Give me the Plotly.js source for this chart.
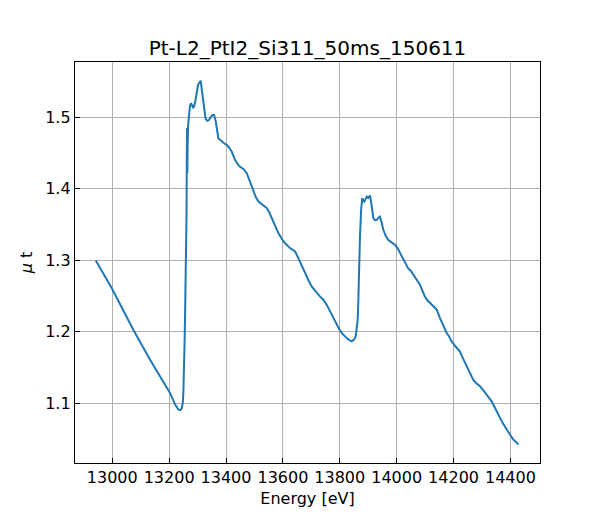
<!DOCTYPE html>
<html>
<head>
<meta charset="utf-8">
<script src="https://cdn.plot.ly/plotly-3.0.1.min.js"></script>
<style>
    html, body { margin: 0; padding: 0; background: #fff; }
    #chart { width: 600px; height: 520px; }
</style>
</head>
<body>
<div id="chart"></div>
<script>
// Pt L2 edge scan
const energy = [
    12942, 12998, 13074, 13133, 13203, 13221, 13232, 13238, 13244, 13248,
    13250, 13252, 13254, 13256, 13258, 13260, 13261, 13262, 13263, 13264,
    13265, 13267, 13270, 13273, 13277, 13281, 13285, 13291, 13296, 13302,
    13306, 13311, 13316, 13322, 13328, 13334, 13340, 13346, 13352, 13358,
    13364, 13373, 13385, 13395, 13402, 13410, 13420, 13432, 13445, 13455,
    13463, 13473, 13484, 13496, 13505, 13514, 13528, 13543, 13552, 13561,
    13573, 13584, 13596, 13607, 13625, 13643, 13654, 13666, 13678, 13690,
    13701, 13719, 13730, 13742, 13755, 13766, 13778, 13789, 13801, 13812,
    13822, 13832, 13842, 13850, 13856, 13860, 13863, 13865, 13867, 13869,
    13871, 13875, 13879, 13883, 13886, 13890, 13895, 13900, 13906, 13910,
    13914, 13918, 13924, 13930, 13936, 13941, 13947, 13953, 13962, 13970,
    13982, 13994, 14003, 14012, 14020, 14029, 14040, 14050, 14058, 14070,
    14082, 14090, 14099, 14108, 14117, 14129, 14141, 14152, 14164, 14176,
    14185, 14193, 14208, 14222, 14234, 14246, 14258, 14269, 14280, 14293,
    14305, 14316, 14334, 14345, 14357, 14372, 14387, 14398, 14410, 14420,
    14428
];
const muT = [
    1.2997, 1.2612, 1.2029, 1.1610, 1.1145, 1.0982, 1.0915, 1.0902, 1.0925, 1.1005,
    1.1150, 1.1377, 1.1800, 1.2215, 1.2650, 1.3000, 1.3600, 1.4300, 1.4850, 1.4220,
    1.4600, 1.4900, 1.5050, 1.5150, 1.5196, 1.5160, 1.5126, 1.5200, 1.5350, 1.5460,
    1.5480, 1.5510, 1.5350, 1.5120, 1.4980, 1.4950, 1.4960, 1.5000, 1.5030, 1.5030,
    1.4940, 1.4707, 1.4660, 1.4630, 1.4613, 1.4580, 1.4520, 1.4400, 1.4320, 1.4288,
    1.4270, 1.4218, 1.4100, 1.3960, 1.3880, 1.3820, 1.3770, 1.3730, 1.3670, 1.3590,
    1.3480, 1.3380, 1.3300, 1.3240, 1.3170, 1.3123, 1.3030, 1.2920, 1.2821, 1.2720,
    1.2634, 1.2542, 1.2495, 1.2448, 1.2370, 1.2285, 1.2190, 1.2099, 1.2015, 1.1960,
    1.1915, 1.1885, 1.1866, 1.1890, 1.1936, 1.2040, 1.2170, 1.2400, 1.2820, 1.3100,
    1.3330, 1.3700, 1.3870, 1.3830, 1.3820, 1.3850, 1.3890, 1.3870, 1.3905, 1.3820,
    1.3680, 1.3590, 1.3560, 1.3566, 1.3595, 1.3610, 1.3530, 1.3426, 1.3340, 1.3286,
    1.3250, 1.3216, 1.3170, 1.3100, 1.3030, 1.2960, 1.2890, 1.2850, 1.2797, 1.2730,
    1.2658, 1.2580, 1.2494, 1.2440, 1.2402, 1.2360, 1.2309, 1.2195, 1.2090, 1.1983,
    1.1930, 1.1866, 1.1790, 1.1726, 1.1620, 1.1517, 1.1410, 1.1330, 1.1280, 1.1237,
    1.1180, 1.1122, 1.1028, 1.0940, 1.0842, 1.0730, 1.0633, 1.0560, 1.0493, 1.0460,
    1.0423
];

const chartTitle = 'Pt-L2_PtI2_Si311_50ms_150611';
const xLabel = 'Energy [eV]';
const yLabel = '<i>μ</i> t';

const FONT = 'DejaVu Sans, sans-serif';

const trace = {
    x: energy,
    y: muT,
    type: 'scatter',
    mode: 'lines',
    line: { color: '#1f77b4', width: 2 },
    hoverinfo: 'x+y',
};

const axisStyle = {
    showgrid: true,
    gridcolor: '#b0b0b0',
    gridwidth: 1,
    zeroline: false,
    showline: true,
    mirror: true,
    linecolor: '#000',
    linewidth: 1.2,
    ticks: 'inside',
    ticklen: 5,
    tickwidth: 1,
    tickcolor: '#000',
    tickfont: { family: FONT, size: 16, color: '#000' },
};

const layout = {
    width: 600,
    height: 520,
    paper_bgcolor: '#fff',
    plot_bgcolor: '#fff',
    showlegend: false,
    margin: { l: 75, r: 60, t: 62, b: 57, pad: 0 },
    font: { family: FONT, color: '#000' },
    title: {
        text: chartTitle,
        font: { family: FONT, size: 20, color: '#000' },
        xref: 'paper', x: 0.5, xanchor: 'center',
        yref: 'container', y: 1 - 48 / 520, yanchor: 'middle',
    },
    xaxis: {
        ...axisStyle,
        range: [12869, 14504],
        tick0: 13000,
        dtick: 200,
        tickformat: 'd',
        title: { text: xLabel, font: { family: FONT, size: 16, color: '#000' }, standoff: 6 },
    },
    yaxis: {
        ...axisStyle,
        range: [1.0165, 1.5772],
        tick0: 1.1,
        dtick: 0.1,
        tickformat: '.1f',
        title: { text: yLabel, font: { family: FONT, size: 16, color: '#000' }, standoff: 8 },
    },
};

Plotly.newPlot('chart', [trace], layout, { displayModeBar: false, staticPlot: true });
</script>
</body>
</html>
